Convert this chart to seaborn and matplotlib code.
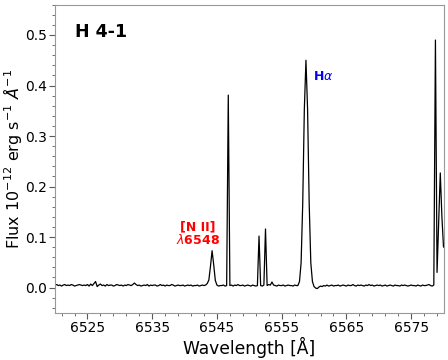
import numpy as np
import seaborn as sns
import matplotlib
matplotlib.use("Agg")
import matplotlib.pyplot as plt
from matplotlib.ticker import AutoMinorLocator

# spectrum of H 4-1, sampled every 0.25 A from 6520 to 6580
wave = np.arange(6520.0, 6580.01, 0.25)
flux = [
    # 6520.00 - 6524.75
    0.005, 0.006, 0.004, 0.005, 0.003, 0.005, 0.006, 0.004, 0.005, 0.004,
    0.006, 0.005, 0.003, 0.004, 0.005, 0.006, 0.005, 0.004, 0.005, 0.004,
    # 6525.00 - 6529.75
    0.006, 0.003, 0.007, 0.004, 0.008, 0.012, 0.002, 0.005, 0.007, 0.004,
    0.005, 0.003, 0.006, 0.004, 0.005, 0.005, 0.003, 0.004, 0.006, 0.005,
    # 6530.00 - 6534.75
    0.004, 0.005, 0.003, 0.005, 0.004, 0.006, 0.005, 0.004, 0.006, 0.009,
    0.006, 0.004, 0.005, 0.003, 0.004, 0.005, 0.004, 0.006, 0.003, 0.005,
    # 6535.00 - 6539.75
    0.004, 0.005, 0.005, 0.003, 0.004, 0.006, 0.004, 0.005, 0.003, 0.005,
    0.004, 0.004, 0.006, 0.005, 0.003, 0.004, 0.005, 0.004, 0.004, 0.005,
    # 6540.00 - 6544.75  ([N II] 6548)
    0.003, 0.004, 0.005, 0.004, 0.005, 0.003, 0.004, 0.004, 0.005, 0.003,
    0.004, 0.005, 0.004, 0.005, 0.008, 0.015, 0.042, 0.073, 0.045, 0.014,
    # 6545.00 - 6549.75
    0.005, 0.003, 0.004, 0.004, 0.005, 0.003, 0.004, 0.381, 0.004, 0.005,
    0.003, 0.005, 0.004, 0.006, 0.004, 0.004, 0.005, 0.003, 0.004, 0.005,
    # 6550.00 - 6554.75
    0.004, 0.003, 0.005, 0.004, 0.003, 0.004, 0.102, 0.004, 0.003, 0.005,
    0.116, 0.004, 0.006, 0.005, 0.011, 0.005, 0.004, 0.003, 0.005, 0.004,
    # 6555.00 - 6559.75  (H alpha)
    0.004, 0.005, 0.003, 0.004, 0.005, 0.004, 0.004, 0.003, 0.005, 0.004,
    0.004, 0.012, 0.049, 0.166, 0.353, 0.450, 0.353, 0.166, 0.049, 0.012,
    # 6560.00 - 6564.75
    0.002, -0.001, -0.002, 0.001, 0.003, 0.002, 0.004, 0.003, 0.005, 0.003,
    0.004, 0.005, 0.003, 0.004, 0.004, 0.005, 0.003, 0.004, 0.005, 0.004,
    # 6565.00 - 6569.75
    0.003, 0.005, 0.004, 0.004, 0.006, 0.004, 0.003, 0.005, 0.004, 0.005,
    0.004, 0.003, 0.005, 0.004, 0.006, 0.004, 0.005, 0.003, 0.004, 0.005,
    # 6570.00 - 6574.75
    0.004, 0.005, 0.003, 0.004, 0.005, 0.003, 0.004, 0.005, 0.004, 0.003,
    0.005, 0.004, 0.004, 0.003, 0.005, 0.004, 0.005, 0.004, 0.003, 0.004,
    # 6575.00 - 6579.75
    0.005, 0.004, 0.004, 0.003, 0.005, 0.004, 0.003, 0.005, 0.004, 0.004,
    0.005, 0.006, 0.004, 0.003, 0.005, 0.490, 0.030, 0.130, 0.227, 0.140,
    # 6580.00
    0.080,
]
xticks = [6525, 6535, 6545, 6555, 6565, 6575]

sns.set_style("ticks")
plt.rcParams.update({"text.color": "black", "axes.labelcolor": "black",
                     "xtick.color": "black", "ytick.color": "black"})

fig = plt.figure(figsize=(4.48, 3.6), dpi=100)
ax = fig.add_axes([0.123, 0.131, 0.867, 0.856])

sns.lineplot(x=wave, y=flux, color="k", lw=0.9, ax=ax)

ax.set_xlim(6520, 6580)
ax.set_ylim(-0.05, 0.56)
ax.set_xticks(xticks)
ax.xaxis.set_minor_locator(AutoMinorLocator())
ax.yaxis.set_minor_locator(AutoMinorLocator())
ax.tick_params(which="major", labelsize=10, length=4, pad=2)
ax.tick_params(which="minor", length=2)
ax.tick_params(colors="0.35", labelcolor="black", which="both")
for s in ax.spines.values():
    s.set_color("0.6")

ax.set_xlabel("Wavelength [Å]", fontsize=12.3, labelpad=1)
ax.set_ylabel(r"Flux $10^{-12}$ erg s$^{-1}$ $\AA^{-1}$", fontsize=11.5)
ax.yaxis.set_label_coords(-0.08, 0.5)

ax.text(0.05, 0.91, "H 4-1", transform=ax.transAxes, fontsize=12.5,
        fontweight="bold", va="center")
ax.text(6559.8, 0.417, r"H$\alpha$", color="blue", fontsize=9,
        fontweight="bold", va="center")
ax.text(6542.0, 0.08, "[N II]\n$\\lambda$6548", color="red", fontsize=9,
        fontweight="bold", ha="center", va="bottom", linespacing=1.0)

fig.savefig("out.png", dpi=100)
